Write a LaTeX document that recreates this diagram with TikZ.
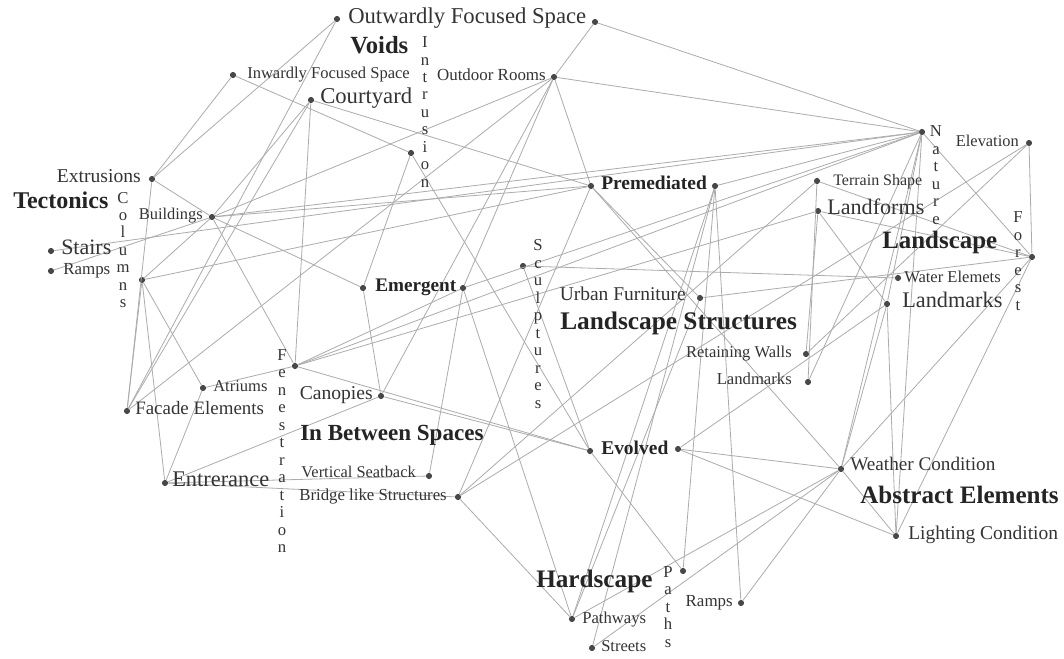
\documentclass[tikz,border=0pt]{standalone}
\usepackage{fontspec}
\setmainfont{Liberation Serif}
\definecolor{edgec}{RGB}{172,172,172}
\definecolor{dotc}{RGB}{72,72,72}
\definecolor{txtc}{RGB}{52,52,52}
\definecolor{hdc}{RGB}{36,36,36}
\newcommand\vlet[1]{\makebox[0pt]{#1}}
\begin{document}
\begin{tikzpicture}[x=0.75pt,y=-0.75pt,
  dot/.style={circle,fill=dotc,inner sep=0pt,minimum size=4.6pt},
  lab/.style={text=txtc,inner sep=0pt,font=\fontsize{#1}{#1}\selectfont},
  hd/.style={text=hdc,inner sep=0pt,font=\bfseries\fontsize{#1}{#1}\selectfont},
  vert/.style={text=txtc,inner sep=0pt,align=center,font=\fontsize{12.5}{13.1}\selectfont},
  edge/.style={draw=edgec,line width=0.6pt}]
\useasboundingbox[fill=white] (0,0) rectangle (1064,659);
% dots
\node[dot] (ofsL) at (337,19) {};
\node[dot] (ofsR) at (595,22) {};
\node[dot] (ifs) at (233,75) {};
\node[dot] (outr) at (554,77) {};
\node[dot] (court) at (311,100) {};
\node[dot] (intr) at (411,153) {};
\node[dot] (extr) at (152,179) {};
\node[dot] (bldg) at (212,217) {};
\node[dot] (premL) at (591,186) {};
\node[dot] (premR) at (715,186) {};
\node[dot] (terr) at (817,181) {};
\node[dot] (landf) at (818,211) {};
\node[dot] (nat) at (922,132) {};
\node[dot] (elev) at (1029,143) {};
\node[dot] (forest) at (1032,257) {};
\node[dot] (stairs) at (51,251) {};
\node[dot] (rampsL) at (51,271) {};
\node[dot] (cols) at (142,280) {};
\node[dot] (emL) at (363,288) {};
\node[dot] (emR) at (463,288) {};
\node[dot] (sculp) at (523,266) {};
\node[dot] (water) at (898,278) {};
\node[dot] (urban) at (700,298) {};
\node[dot] (lmR) at (887,304) {};
\node[dot] (fen) at (295,366) {};
\node[dot] (atr) at (203,388) {};
\node[dot] (fac) at (127,411) {};
\node[dot] (can) at (381,396) {};
\node[dot] (retw) at (806,354) {};
\node[dot] (lmM) at (808,382) {};
\node[dot] (evL) at (590,451) {};
\node[dot] (evR) at (678,449) {};
\node[dot] (weath) at (841,469) {};
\node[dot] (vseat) at (429,476) {};
\node[dot] (bridge) at (458,497) {};
\node[dot] (entr) at (165,483) {};
\node[dot] (light) at (896,536) {};
\node[dot] (paths) at (683,571) {};
\node[dot] (rampsB) at (741,603) {};
\node[dot] (pathw) at (572,619) {};
\node[dot] (streets) at (592,648) {};
% edges
\foreach \a/\b in {ofsL/extr, ofsL/fac, ifs/extr, ifs/intr, ofsR/outr, ofsR/nat,
  outr/nat, outr/bldg, outr/premL, outr/fac, outr/can, outr/emR, court/premL, court/fen,
  court/bldg, court/fac, extr/bldg, extr/fac, stairs/nat, bldg/rampsL, bldg/cols,
  bldg/emL, bldg/fen, bldg/nat, bldg/premL, cols/fac, cols/entr, cols/atr, cols/premL,
  atr/entr, atr/fen, fen/evL, fen/landf, fen/nat, fen/emR, entr/can, entr/vseat,
  entr/bridge, emL/can, emL/intr, emR/vseat, emR/pathw, emR/nat, intr/evL,
  sculp/water, sculp/evL, can/evL, premL/urban, premL/weath, premL/bridge,
  premR/nat, premR/pathw, premR/streets, premR/paths, premR/rampsB, terr/forest,
  terr/lmM, landf/forest, landf/lmR, landf/retw, nat/forest, nat/lmM, nat/weath,
  nat/light, nat/lmR, elev/forest, elev/retw, elev/bridge, bridge/terr, bridge/pathw,
  urban/forest, urban/pathw, forest/weath, forest/light, lmR/weath, lmR/light,
  evR/weath, evR/light, evR/lmR, evL/paths, weath/light, weath/pathw,
  weath/streets, weath/rampsB}
  \draw[edge] (\a) -- (\b);
% labels
\node[lab=17,anchor=mid west] (t1) at (348,20) {Outwardly Focused Space};
\node[hd=18.5,anchor=mid west] (t2) at (350,50) {Voids};
\node[vert] (t3) at (425,112) {\vlet{I}\\\vlet{n}\\\vlet{t}\\\vlet{r}\\\vlet{u}\\\vlet{s}\\\vlet{i}\\\vlet{o}\\\vlet{n}};
\node[lab=12.4,anchor=mid west] (t4) at (247,75) {Inwardly Focused Space};
\node[lab=12.7,anchor=mid east] (t5) at (546,77) {Outdoor Rooms};
\node[lab=17,anchor=mid west] (t6) at (320,100) {Courtyard};
\node[lab=14.7,anchor=mid east] (t7) at (141,179) {Extrusions};
\node[hd=18,anchor=mid west] (t8) at (13,205) {Tectonics};
\node[vert] (t9) at (123,250) {\vlet{C}\\\vlet{o}\\\vlet{l}\\\vlet{u}\\\vlet{m}\\\vlet{n}\\\vlet{s}};
\node[lab=12.3,anchor=mid east] (t10) at (203,216) {Buildings};
\node[lab=16.5,anchor=mid west] (t11) at (61,251) {Stairs};
\node[lab=12.7,anchor=mid west] (t12) at (63,271) {Ramps};
\node[vert] (t13) at (282,451) {\vlet{F}\\\vlet{e}\\\vlet{n}\\\vlet{e}\\\vlet{s}\\\vlet{t}\\\vlet{r}\\\vlet{a}\\\vlet{t}\\\vlet{i}\\\vlet{o}\\\vlet{n}};
\node[lab=12.4,anchor=mid west] (t14) at (213,388) {Atriums};
\node[lab=14.2,anchor=mid west] (t15) at (135,411) {Facade Elements};
\node[lab=14.7,anchor=mid east] (t16) at (373,396) {Canopies};
\node[hd=17.3,anchor=mid west] (t17) at (300,437) {In Between Spaces};
\node[lab=16.8,anchor=mid west] (t18) at (172,483) {Entrerance};
\node[lab=12.3,anchor=mid east] (t19) at (416,474) {Vertical Seatback};
\node[lab=12.6,anchor=mid east] (t20) at (447,497) {Bridge like Structures};
\node[hd=14.4,anchor=mid west] (t21) at (375,288) {Emergent};
\node[vert] (t22) at (538,324) {\vlet{S}\\\vlet{c}\\\vlet{u}\\\vlet{l}\\\vlet{p}\\\vlet{t}\\\vlet{u}\\\vlet{r}\\\vlet{e}\\\vlet{s}};
\node[lab=14.6,anchor=mid east] (t23) at (686,297) {Urban Furniture};
\node[hd=19,anchor=mid west] (t24) at (560,326) {Landscape Structures};
\node[hd=14.6,anchor=mid west] (t25) at (601,186) {Premediated};
\node[lab=12,anchor=mid west] (t26) at (833,182) {Terrain Shape};
\node[lab=16.6,anchor=mid west] (t27) at (827,211) {Landforms};
\node[vert] (t28) at (936,175) {\vlet{N}\\\vlet{a}\\\vlet{t}\\\vlet{u}\\\vlet{r}\\\vlet{e}};
\node[lab=12.3,anchor=mid east] (t29) at (1019,143) {Elevation};
\node[vert] (t30) at (1018,261) {\vlet{F}\\\vlet{o}\\\vlet{r}\\\vlet{e}\\\vlet{s}\\\vlet{t}};
\node[hd=18.7,anchor=mid west] (t31) at (882,245) {Landscape};
\node[lab=12.4,anchor=mid west] (t32) at (904,279) {Water Elemets};
\node[lab=16.7,anchor=mid west] (t33) at (902,304) {Landmarks};
\node[lab=12.4,anchor=mid east] (t34) at (792,354) {Retaining Walls};
\node[lab=12.5,anchor=mid east] (t35) at (792,381) {Landmarks};
\node[lab=14.4,anchor=mid west] (t36) at (850,467) {Weather Condition};
\node[hd=18.8,anchor=mid west] (t37) at (860,500) {Abstract Elements};
\node[lab=14.6,anchor=mid west] (t38) at (908,536) {Lighting Condition};
\node[hd=14.6,anchor=mid west] (t39) at (601,451) {Evolved};
\node[vert] (t40) at (668,607) {\vlet{P}\\\vlet{a}\\\vlet{t}\\\vlet{h}\\\vlet{s}};
\node[lab=12.7,anchor=mid east] (t41) at (733,603) {Ramps};
\node[hd=18.9,anchor=mid west] (t42) at (536,584) {Hardscape};
\node[lab=12.5,anchor=mid west] (t43) at (582,620) {Pathways};
\node[lab=12.4,anchor=mid west] (t44) at (601,648) {Streets};
\end{tikzpicture}
\end{document}
